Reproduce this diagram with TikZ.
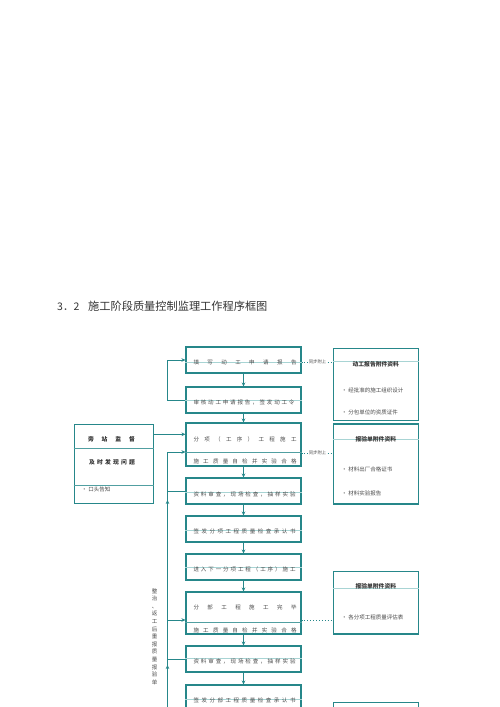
\documentclass[tikz,border=0pt]{standalone}
\usepackage{fontspec}
\newfontfamily\cjk{Noto Sans CJK SC}
\usetikzlibrary{arrows.meta}
\definecolor{tl}{HTML}{26878A}
\definecolor{tlf}{HTML}{A8D4D4}
\definecolor{tx}{HTML}{4A4A4A}
\ExplSyntaxOn
\NewDocumentCommand{\spr}{mm}{\makebox[#1pt][s]{\tl_map_inline:nn{#2}{##1\hfill}\unskip}}
\ExplSyntaxOff
\tikzset{
  box/.style={draw=tl, line width=1.1pt, minimum width=115pt, inner sep=0pt},
  rbox/.style={draw=tl, line width=1.1pt, minimum width=85pt, inner sep=0pt},
  faint/.style={draw=tlf, line width=0.5pt},
  inner/.style={draw=tl!80, line width=0.6pt},
  arr/.style={draw=tl, line width=1pt, -{Stealth[length=4pt,width=3.6pt]}},
  ln/.style={draw=tl, line width=1pt},
  dot/.style={draw=tl, line width=0.9pt, dotted},
  txt/.style={font=\cjk\fontsize{5.5}{6}\selectfont, text=tx, inner sep=0pt},
  btxt/.style={font=\cjk\bfseries\fontsize{5.8}{6}\selectfont, text=black!80, inner sep=0pt},
  note/.style={font=\cjk\fontsize{4.3}{5}\selectfont, text=tx, fill=white, inner sep=0.6pt},
}
\begin{document}
\begin{tikzpicture}[x=1pt,y=-1pt]
\clip (0,0) rectangle (500,707);
\fill[white] (0,0) rectangle (500,707);

% title
\node[anchor=west, font=\cjk\fontsize{10.5}{12}\selectfont, text=black!80, inner sep=0pt] (num) at (57,306.7) {3．2};
\node[anchor=west, font=\cjk\fontsize{11.2}{12}\selectfont, text=black!80, inner sep=0pt] (ttl) at (88,306.7) {施工阶段质量控制监理工作程序框图};

% main column boxes
\node[box, minimum height=26pt] (b1) at (243.5,360) {};
\node[box, minimum height=26pt] (b2) at (243.5,400) {};
\node[box, minimum height=43pt] (b3) at (243.5,444.5) {};
\node[box, minimum height=26pt] (b4) at (243.5,491) {};
\node[box, minimum height=26pt] (b5) at (243.5,529) {};
\node[box, minimum height=26pt] (b6) at (243.5,567) {};
\node[box, minimum height=42pt] (b7) at (243.5,613) {};
\node[box, minimum height=26pt] (b8) at (243.5,659) {};
\node[box, minimum height=26pt] (b9) at (243.5,698) {};

% faint lines inside boxes
\draw[faint] (b1.west |- 0,362) -- (b1.east |- 0,362);
\draw[faint] (b2.west |- 0,400) -- (b2.east |- 0,400);
\draw[faint] (b4.west |- 0,492) -- (b4.east |- 0,492);
\draw[faint] (b5.west |- 0,530) -- (b5.east |- 0,530);
\draw[faint] (b6.west |- 0,567.5) -- (b6.east |- 0,567.5);
\draw[faint] (b8.west |- 0,658) -- (b8.east |- 0,658);
\draw[faint] (b9.west |- 0,699) -- (b9.east |- 0,699);
\draw[inner] (b3.west |- 0,452) -- (b3.east |- 0,452);
\draw[inner] (b7.west |- 0,622.3) -- (b7.east |- 0,622.3);

% main texts
\node[txt] (t1) at (245,362.7) {\spr{103}{填写动工申请报告}};
\node[txt] (t2) at (244,402.7) {\spr{101}{审核动工申请报告，签发动工令}};
\node[txt] (t3a) at (245,439) {\spr{103}{分项（工序）工程施工}};
\node[txt] (t3b) at (245,461.7) {\spr{103}{施工质量自检并实验合格}};
\node[txt] (t4) at (244.5,494) {\spr{102}{资料审查，现场检查，抽样实验}};
\node[txt] (t5) at (244.5,531.7) {\spr{102}{签发分项工程质量检查承认书}};
\node[txt] (t6) at (244.5,569) {\spr{102}{进入下一分项工程（工序）施工}};
\node[txt] (t7a) at (245,607.3) {\spr{103}{分部工程施工完毕}};
\node[txt] (t7b) at (245,630) {\spr{103}{施工质量自检并实验合格}};
\node[txt] (t8) at (244.5,661) {\spr{102}{资料审查，现场检查，抽样实验}};
\node[txt] (t9) at (244.5,700) {\spr{102}{签发分部工程质量检查承认书}};

% arrows down the main column
\draw[arr] (b1) -- (b2);
\draw[arr] (b2) -- (b3);
\draw[arr] (b3) -- (b4);
\draw[arr] (b4) -- (b5);
\draw[arr] (b5) -- (b6);
\draw[arr] (b6) -- (b7);
\draw[arr] (b7) -- (b8);
\draw[arr] (b8) -- (b9);

% loop back from b2 to b1
\coordinate (lp) at (167.3,400);
\draw[arr] (b2.west) -- (lp) |- (b1.west);

% left box
\node[rbox, minimum width=79pt, minimum height=79pt] (lb) at (113.6,463.6) {};
\draw[inner] (lb.west |- 0,448.3) -- (lb.east |- 0,448.3);
\draw[inner] (lb.west |- 0,485.7) -- (lb.east |- 0,485.7);
\node[btxt] (l1) at (111.5,439) {\spr{47}{旁站监督}};
\node[btxt] (l2) at (112,462) {\spr{46}{及时发现问题}};
\node[txt, anchor=west] (l3) at (81.5,489) {• 口头告知};
\coordinate (lbo) at (lb.east |- 0,434.3);
\draw[arr] (lbo) -- (lbo -| b3.west);

% feedback line
\coordinate (fbt) at (167.5,452);
\coordinate (fbb) at (167.5,715);
\draw[ln] (fbt) -- (fbb);
\draw[arr] (fbt) -- (fbt -| b3.west);
\draw[ln] (b4.west) -- (b4.west -| fbt);
\coordinate (fb7) at (167.5,620);
\draw[arr] (fb7) -- (fb7 -| b7.west);
\draw[ln] (b8.west) -- (b8.west -| fbt);
\coordinate (m1a) at (167.5,507);
\coordinate (m1b) at (167.5,500);
\draw[arr] (m1a) -- (m1b);
\coordinate (m2a) at (167.5,672);
\coordinate (m2b) at (167.5,665);
\draw[arr] (m2a) -- (m2b);

% vertical text
\node[font=\cjk\fontsize{5.5}{7.6}\selectfont, text=tx, align=center, inner sep=0pt] (vt) at (154.5,636.5)
  {整\\治\\、\\返\\工\\后\\重\\报\\质\\量\\报\\验\\单};

% right boxes
\node[rbox, minimum height=71.7pt] (rA) at (375.8,384.2) {};
\node[rbox, minimum height=80pt] (rB) at (375.8,464) {};
\node[rbox, minimum height=62.3pt] (rC) at (375.8,602.8) {};
\node[rbox, minimum height=30pt] (rD) at (375.8,717.7) {};

\draw[faint] (rA.west |- 0,361.7) -- (rA.east |- 0,361.7);
\draw[faint] (rB.west |- 0,439.7) -- (rB.east |- 0,439.7);
\draw[faint] (rC.west |- 0,588.3) -- (rC.east |- 0,588.3);

\node[btxt] (ra0) at (375.8,364) {动工报告附件资料};
\node[txt, anchor=west] (ra1) at (341.5,390.7) {• 经批准的施工组织设计};
\node[txt, anchor=west] (ra2) at (341.5,412.7) {• 分包单位的资质证件};
\node[btxt] (rb0) at (375.8,439.5) {报验单附件资料};
\node[txt, anchor=west] (rb1) at (341.5,469.3) {• 材料出厂合格证书};
\node[txt, anchor=west] (rb2) at (341.5,493.3) {• 材料实验报告};
\node[btxt] (rc0) at (375.8,586.7) {报验单附件资料};
\node[txt, anchor=west] (rc1) at (341.5,617.3) {• 各分项工程质量评估表};

% dotted connectors
\coordinate (d1) at (b1.east |- 0,362);
\draw[dot] (d1) -- (d1 -| rA.west);
\node[note] (n1) at (317.5,362) {同步附上};
\coordinate (d2) at (b3.east |- 0,453);
\draw[dot] (d2) -- (d2 -| rB.west);
\node[note] (n2) at (317.5,453) {同步附上};
\coordinate (d3) at (b7.east |- 0,620.7);
\draw[dot] (d3) -- (d3 -| rC.west);
\end{tikzpicture}
\end{document}
